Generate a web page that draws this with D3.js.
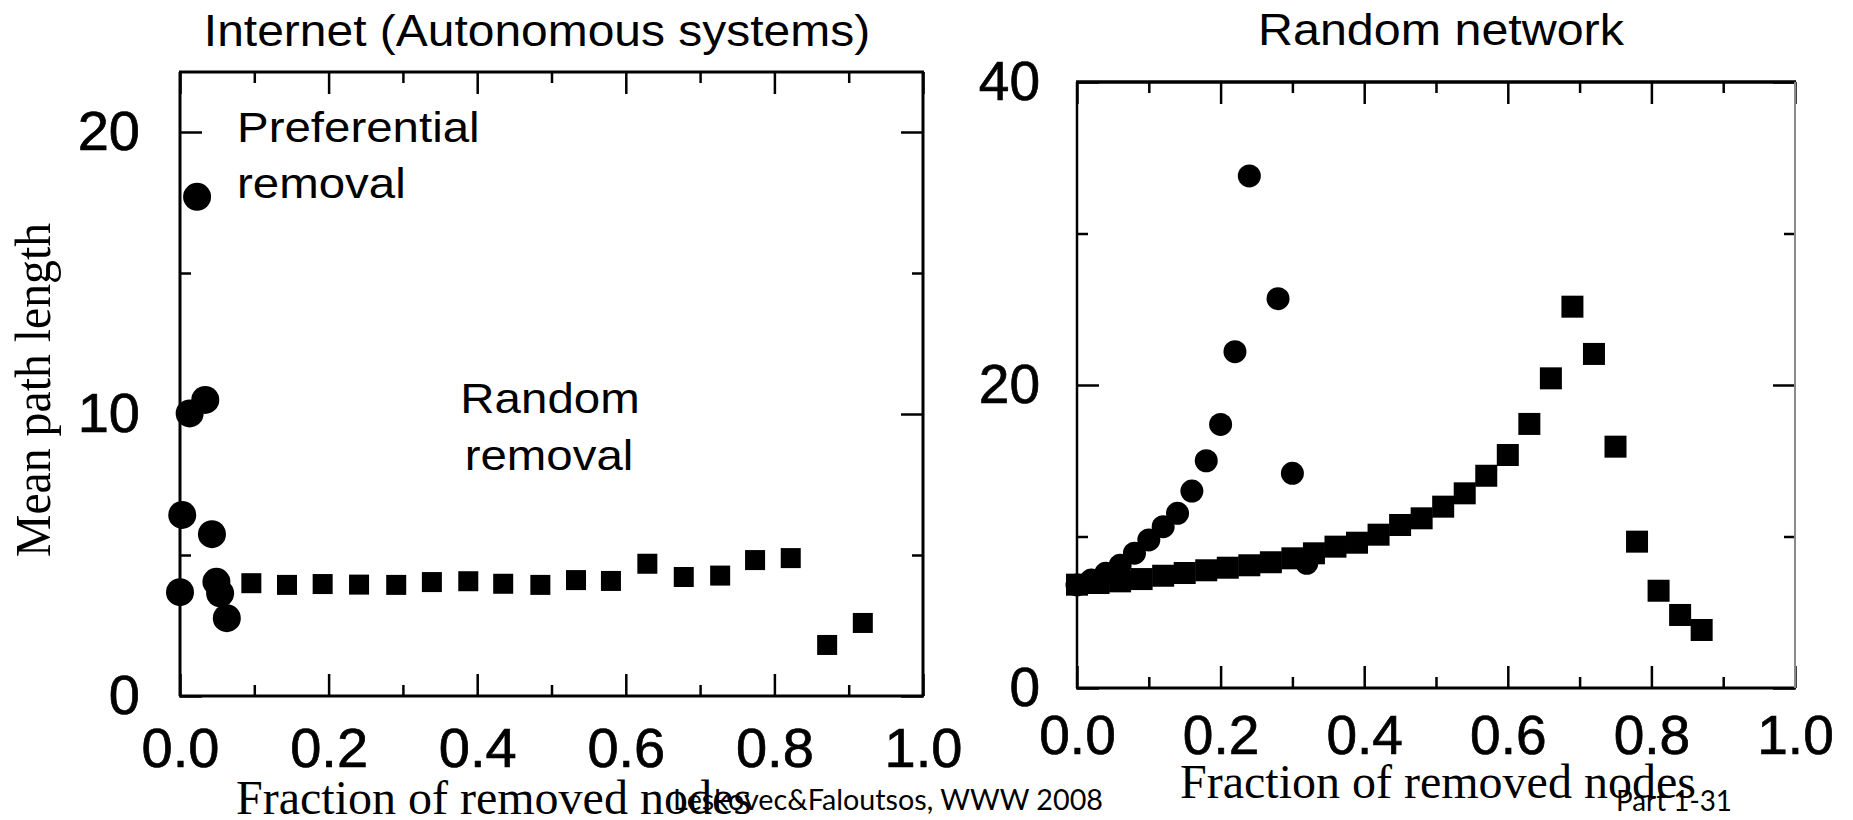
<!DOCTYPE html>
<html>
<head>
<meta charset="utf-8">
<script src="https://cdn.jsdelivr.net/npm/d3@7"></script>
<style>
  html, body { margin: 0; padding: 0; background: #fff; }
  svg { display: block; }
</style>
</head>
<body>
<svg id="chart" width="1853" height="820"></svg>
<script>
// ---------------- DATA ----------------
// Left panel: Internet (Autonomous systems)
const prefXLeft = [0.000, 0.003, 0.013, 0.023, 0.034, 0.043, 0.049, 0.054, 0.063];
const prefYLeft = [3.68, 6.42, 10.02, 17.7, 10.5, 5.74, 4.05, 3.64, 2.76];
const randXLeft = [0.096, 0.144, 0.192, 0.241, 0.291, 0.339, 0.388, 0.435, 0.485, 0.533, 0.580, 0.629, 0.678, 0.727, 0.774, 0.822, 0.871, 0.919];
const randYLeft = [4.00, 3.94, 3.97, 3.95, 3.94, 4.04, 4.07, 3.98, 3.94, 4.11, 4.08, 4.69, 4.22, 4.27, 4.82, 4.89, 1.81, 2.59];

// Right panel: Random network
const prefXRight = [0.00, 0.02, 0.04, 0.06, 0.08, 0.10, 0.12, 0.14, 0.16, 0.18, 0.20, 0.22, 0.24, 0.28, 0.30, 0.32];
const prefYRight = [6.8, 7.13, 7.57, 8.1, 8.9, 9.77, 10.65, 11.53, 13.0, 15.0, 17.4, 22.2, 33.8, 25.7, 14.17, 8.23];
const randXRight = [0.00, 0.03, 0.06, 0.09, 0.12, 0.15, 0.18, 0.21, 0.24, 0.27, 0.30, 0.33, 0.36, 0.39, 0.42, 0.45, 0.48, 0.51, 0.54, 0.57, 0.60, 0.63, 0.66, 0.69, 0.72, 0.75, 0.78, 0.81, 0.84, 0.87];
const randYRight = [6.82, 6.93, 7.04, 7.19, 7.41, 7.59, 7.77, 7.94, 8.10, 8.30, 8.56, 8.89, 9.33, 9.59, 10.12, 10.76, 11.20, 11.97, 12.85, 14.01, 15.38, 17.43, 20.44, 25.17, 22.05, 15.93, 9.66, 6.42, 4.82, 3.83];

// Ticks
const xMajorTicks = [0, 0.2, 0.4, 0.6, 0.8, 1.0];
const xMinorTicks = [0.1, 0.3, 0.5, 0.7, 0.9];
const yMajorLeft = [0, 10, 20];
const yMinorLeft = [5, 15];
const yMajorRight = [0, 20, 40];
const yMinorRight = [10, 30];

// Texts
const titleLeft = "Internet (Autonomous systems)";
const titleRight = "Random network";
const yAxisTitle = "Mean path length";
const xAxisTitle = "Fraction of removed nodes";
const annoPref = ["Preferential", "removal"];
const annoRand = ["Random", "removal"];
const footerLeft = "Leskovec&Faloutsos, WWW 2008";
const footerRight = "Part 1-31";

// ---------------- DRAWING ----------------
const svg = d3.select("#chart");
const SANS = "'Liberation Sans', Arial, Helvetica, sans-serif";
const SERIF = "'Liberation Serif', 'Times New Roman', serif";

function stretchedText(x, y, str, size, sx, anchor, family) {
  return svg.append("text")
    .attr("transform", `translate(${x},${y}) scale(${sx},1)`)
    .attr("text-anchor", anchor)
    .style("font-family", family)
    .style("font-size", size + "px")
    .style("fill", "#000")
    .text(str);
}

function panel(cfg) {
  const g = svg.append("g");
  const x = cfg.x, y = cfg.y;
  const x0 = x.range()[0], x1 = x.range()[1];
  const yb = y(0), yt = cfg.top;
  const fmt = d3.format(".1f");

  const styleAxis = sel => {
    sel.select(".domain").remove();
    sel.selectAll(".tick line").attr("stroke", "#000").attr("stroke-width", 2.5);
    sel.selectAll("text")
      .style("font-family", SANS)
      .style("font-size", cfg.fontSize + "px")
      .attr("fill", "#000")
      .attr("stroke", "#000")
      .attr("stroke-width", 0.7);
  };

  // bottom major (with labels) & minor
  g.append("g").attr("transform", `translate(0,${yb})`)
    .call(d3.axisBottom(x).tickValues(xMajorTicks).tickSizeInner(-22).tickSizeOuter(0)
      .tickPadding(cfg.xPad).tickFormat(fmt))
    .call(styleAxis);
  g.append("g").attr("transform", `translate(0,${yb})`)
    .call(d3.axisBottom(x).tickValues(xMinorTicks).tickSizeInner(-11).tickSizeOuter(0).tickFormat(""))
    .call(styleAxis);
  // top
  g.append("g").attr("transform", `translate(0,${yt})`)
    .call(d3.axisTop(x).tickValues(xMajorTicks).tickSizeInner(-22).tickSizeOuter(0).tickFormat(""))
    .call(styleAxis);
  g.append("g").attr("transform", `translate(0,${yt})`)
    .call(d3.axisTop(x).tickValues(xMinorTicks).tickSizeInner(-11).tickSizeOuter(0).tickFormat(""))
    .call(styleAxis);
  // left
  g.append("g").attr("transform", `translate(${x0},0)`)
    .call(d3.axisLeft(y).tickValues(cfg.yMajor).tickSizeInner(-22).tickSizeOuter(0)
      .tickPadding(cfg.yPad).tickFormat(d3.format("d")))
    .call(styleAxis);
  g.append("g").attr("transform", `translate(${x0},0)`)
    .call(d3.axisLeft(y).tickValues(cfg.yMinor).tickSizeInner(-11).tickSizeOuter(0).tickFormat(""))
    .call(styleAxis);
  // right
  g.append("g").attr("transform", `translate(${x1},0)`)
    .call(d3.axisRight(y).tickValues(cfg.yMajor).tickSizeInner(-22).tickSizeOuter(0).tickFormat(""))
    .call(styleAxis);
  g.append("g").attr("transform", `translate(${x1},0)`)
    .call(d3.axisRight(y).tickValues(cfg.yMinor).tickSizeInner(-11).tickSizeOuter(0).tickFormat(""))
    .call(styleAxis);

  // frame
  const fr = g.append("g").attr("fill", "none");
  fr.append("line").attr("x1", x0).attr("x2", x0).attr("y1", yt).attr("y2", yb)
    .attr("stroke", "#000").attr("stroke-width", cfg.leftW);
  fr.append("line").attr("x1", x0 - 1).attr("x2", x1 + 1).attr("y1", yb).attr("y2", yb)
    .attr("stroke", "#000").attr("stroke-width", 3);
  fr.append("line").attr("x1", x0 - 1).attr("x2", x1 + 1).attr("y1", yt).attr("y2", yt)
    .attr("stroke", "#000").attr("stroke-width", cfg.topW);
  fr.append("line").attr("x1", x1).attr("x2", x1).attr("y1", yt).attr("y2", yb)
    .attr("stroke", cfg.rightColor).attr("stroke-width", cfg.rightW);

  // circles (preferential removal)
  g.append("g").selectAll("circle")
    .data(d3.zip(cfg.prefX, cfg.prefY))
    .join("circle")
    .attr("cx", d => x(d[0]))
    .attr("cy", d => y(d[1]))
    .attr("r", cfg.r)
    .attr("fill", "#000");

  // squares (random removal)
  const s = cfg.sq;
  g.append("g").selectAll("rect")
    .data(d3.zip(cfg.randX, cfg.randY))
    .join("rect")
    .attr("x", d => x(d[0]) - s / 2)
    .attr("y", d => y(d[1]) - s / 2)
    .attr("width", s)
    .attr("height", s)
    .attr("fill", "#000");
}

const xL = d3.scaleLinear().domain([0, 1]).range([180, 923]);
const yL = d3.scaleLinear().domain([0, 20]).range([696, 132]);
const xR = d3.scaleLinear().domain([0, 1]).range([1077, 1795]);
const yR = d3.scaleLinear().domain([0, 40]).range([688, 82]);

panel({
  x: xL, y: yL, top: 72, yMajor: yMajorLeft, yMinor: yMinorLeft,
  xPad: 31, yPad: 40, fontSize: 56,
  leftW: 3, topW: 3, rightW: 3, rightColor: "#000",
  prefX: prefXLeft, prefY: prefYLeft, randX: randXLeft, randY: randYLeft,
  r: 14, sq: 20
});

panel({
  x: xR, y: yR, top: yR(40), yMajor: yMajorRight, yMinor: yMinorRight,
  xPad: 27, yPad: 37, fontSize: 55,
  leftW: 2.5, topW: 3.5, rightW: 2, rightColor: "#8a8a8a",
  prefX: prefXRight, prefY: prefYRight, randX: randXRight, randY: randYRight,
  r: 11.5, sq: 22
});

// Titles
stretchedText(537, 46, titleLeft, 44, 1.09, "middle", SANS);
stretchedText(1441, 45, titleRight, 44, 1.1, "middle", SANS);

// Annotations
stretchedText(237, 142, annoPref[0], 42, 1.13, "start", SANS);
stretchedText(237, 198, annoPref[1], 42, 1.13, "start", SANS);
stretchedText(550, 413, annoRand[0], 42, 1.13, "middle", SANS);
stretchedText(549, 470, annoRand[1], 42, 1.13, "middle", SANS);

// Axis titles (serif)
svg.append("text")
  .attr("transform", "translate(50,390) rotate(-90) scale(0.955,1)")
  .attr("text-anchor", "middle")
  .style("font-family", SERIF).style("font-size", "50px").style("fill", "#000")
  .text(yAxisTitle);
svg.append("text")
  .attr("x", 236).attr("y", 814)
  .style("font-family", SERIF).style("font-size", "48px").style("fill", "#000")
  .text(xAxisTitle);
svg.append("text")
  .attr("x", 1180).attr("y", 798)
  .style("font-family", SERIF).style("font-size", "48px").style("fill", "#000")
  .text(xAxisTitle);

// Footer
svg.append("text")
  .attr("x", 1103).attr("y", 810)
  .attr("text-anchor", "end")
  .attr("textLength", 430).attr("lengthAdjust", "spacingAndGlyphs")
  .style("font-family", "Lato, 'Open Sans', sans-serif").style("font-size", "29px").style("fill", "#000")
  .text(footerLeft);
svg.append("text")
  .attr("x", 1616).attr("y", 811)
  .attr("textLength", 116).attr("lengthAdjust", "spacingAndGlyphs")
  .style("font-family", "Lato, 'Open Sans', sans-serif").style("font-size", "29px").style("fill", "#000")
  .text(footerRight);
</script>
</body>
</html>
